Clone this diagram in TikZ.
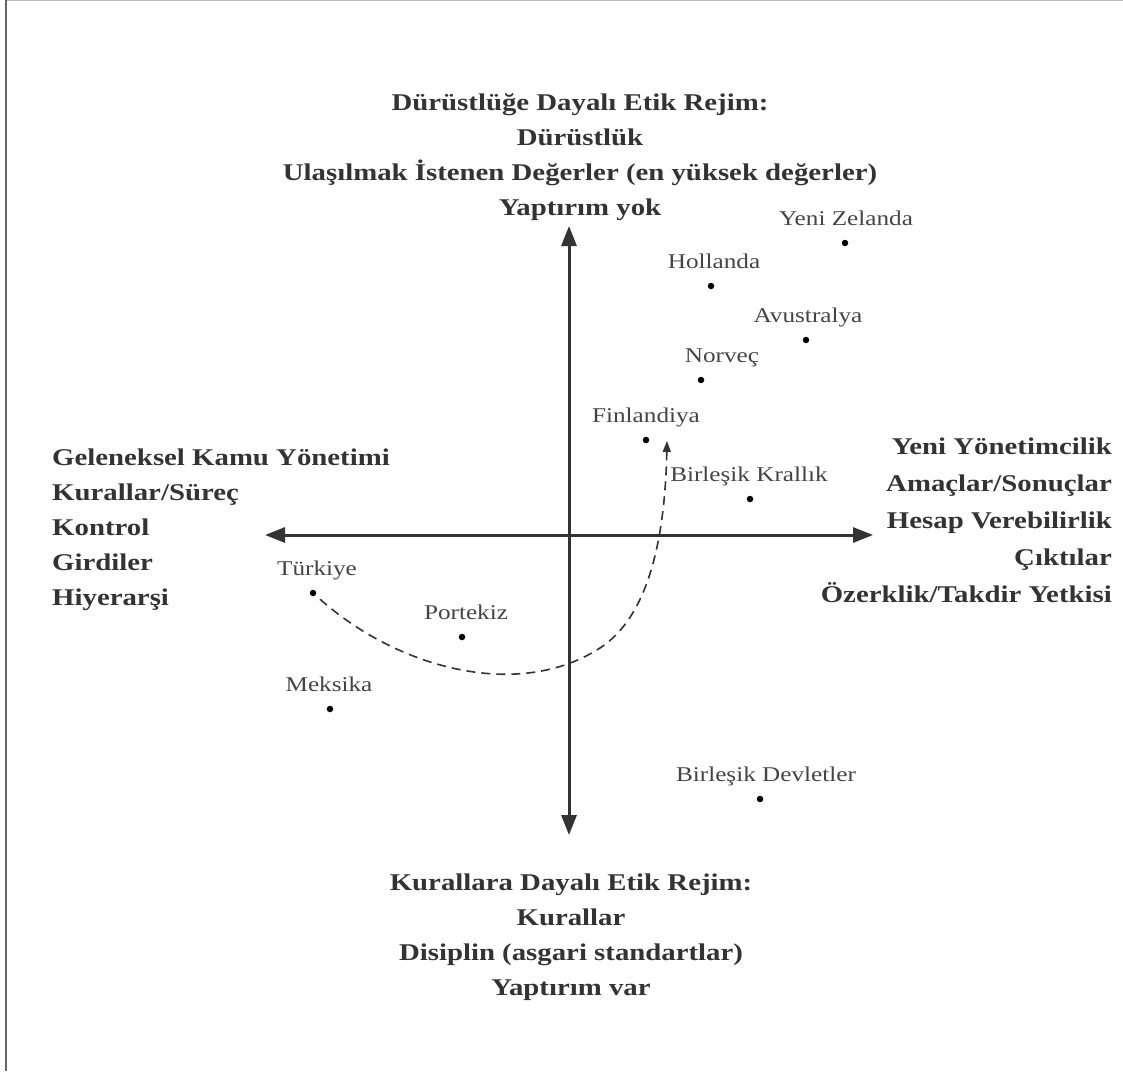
\documentclass[tikz,border=0pt]{standalone}
\usepackage{fontspec}
\setmainfont{Liberation Serif}[FakeStretch=1.2]
\usepackage{xcolor}
\usetikzlibrary{arrows.meta,positioning}
\definecolor{inkgray}{HTML}{333333}
\definecolor{labelgray}{HTML}{444444}

\begin{document}
\begin{tikzpicture}[x=1pt, y=-1pt,
  regime/.style={font=\bfseries\fontsize{24}{35}\selectfont, text=inkgray, inner sep=0pt},
  country/.style={font=\fontsize{21}{25}\selectfont, text=labelgray, inner sep=0pt,
               text height=15pt, text depth=5pt},
  dot/.style={circle, fill=black, inner sep=0pt, minimum size=6.5pt},
  axisarrow/.style={{Triangle[length=20pt,width=15pt]}-{Triangle[length=20pt,width=15pt]},
               line width=3pt, draw=inkgray},
  trend/.style={-{Triangle[length=11pt,width=8pt]}, dash pattern=on 9pt off 6pt,
               line width=1.6pt, draw=inkgray}
]
\useasboundingbox (0,0) rectangle (1123,1071);
\draw[gray!50, line width=1pt] (5.5,0.5) -- (1123,0.5);
\draw[gray!80!black, line width=2pt] (5.5,0) -- (5.5,1071);

\coordinate (ytop) at (569,226);
\coordinate (ybot) at (569,835);
\coordinate (xleft) at (265,535);
\coordinate (xright) at (873,535);
\draw[axisarrow] (ybot) -- (ytop);
\draw[axisarrow] (xleft) -- (xright);

\node[regime, align=center] (integrity) at (580,157) {Dürüstlüğe Dayalı Etik Rejim:\\
  Dürüstlük\\ Ulaşılmak İstenen Değerler (en yüksek değerler)\\ Yaptırım yok};
\node[regime, align=center] (compliance) at (571,937) {Kurallara Dayalı Etik Rejim:\\
  Kurallar\\ Disiplin (asgari standartlar)\\ Yaptırım var};
\node[regime, align=left, anchor=west] (traditional) at (52,530) {Geleneksel Kamu Yönetimi\\
  Kurallar/Süreç\\ Kontrol\\ Girdiler\\ Hiyerarşi};
\node[regime, align=right, anchor=east, font=\bfseries\fontsize{24}{37}\selectfont]
  (managerial) at (1112,520) {Yeni Yönetimcilik\\ Amaçlar/Sonuçlar\\ Hesap Verebilirlik\\
  Çıktılar\\ Özerklik/Takdir Yetkisi};

\node[dot] (nz) at (845,243) {};
\node[dot] (hol) at (711,286) {};
\node[dot] (aus) at (806,340) {};
\node[dot] (nor) at (701,380) {};
\node[dot] (fin) at (646,440) {};
\node[dot] (uk) at (750,499) {};
\node[dot] (tr) at (313,593) {};
\node[dot] (pt) at (462,637) {};
\node[dot] (mx) at (330,709) {};
\node[dot] (us) at (760,799) {};

\node[country, above=9pt of nz, xshift=1pt] (nzl) {Yeni Zelanda};
\node[country, above=9pt of hol, xshift=3pt] (holl) {Hollanda};
\node[country, above=9pt of aus, xshift=2pt] (ausl) {Avustralya};
\node[country, above=9pt of nor, xshift=21pt] (norl) {Norveç};
\node[country, above=9pt of fin] (finl) {Finlandiya};
\node[country, above=9pt of uk, xshift=-1pt] (ukl) {Birleşik Krallık};
\node[country, above=9pt of tr, xshift=4pt] (trl) {Türkiye};
\node[country, above=9pt of pt, xshift=4pt] (ptl) {Portekiz};
\node[country, above=9pt of mx, xshift=-1pt] (mxl) {Meksika};
\node[country, above=9pt of us, xshift=6pt] (usl) {Birleşik Devletler};

\coordinate (trendtip) at (667,441);
\draw[trend, shorten <=6pt] (tr) .. controls (400,670) and (520,700) .. (600,648)
  .. controls (648,617) and (665,540) .. (trendtip);
\end{tikzpicture}
\end{document}
